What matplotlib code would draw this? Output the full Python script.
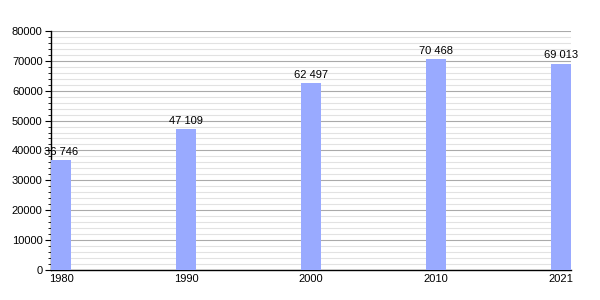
import matplotlib
matplotlib.use('Agg')
import matplotlib.pyplot as plt
import numpy as np
from matplotlib.ticker import MultipleLocator

years = ['1980', '1990', '2000', '2010', '2021']
population = [36746, 47109, 62497, 70468, 69013]

plt.rcParams['font.family'] = ['Liberation Sans', 'DejaVu Sans']

fig = plt.figure(figsize=(6, 3), dpi=100)
ax = fig.add_axes([0.085, 0.1, 0.867, 0.797])

w = 0.16
x = np.arange(len(years))
ax.bar(x, population, width=w, color='#99aaff', zorder=3)

for xi, v in zip(x, population):
    ax.text(xi, v + 1200, f'{v:,}'.replace(',', ' '), ha='center', va='bottom',
            fontsize=8, zorder=4)

ax.set_xlim(-w / 2, len(years) - 1 + w / 2)
ax.set_ylim(0, 80000)
ax.set_xticks(x)
ax.set_xticklabels(years)
ax.yaxis.set_major_locator(MultipleLocator(10000))
ax.yaxis.set_minor_locator(MultipleLocator(2000))

ax.grid(axis='y', which='major', color='#aaaaaa', linewidth=0.8, zorder=0)
ax.grid(axis='y', which='minor', color='#e2e2e2', linewidth=0.8, zorder=0)

ax.spines['top'].set_visible(False)
ax.spines['right'].set_visible(False)
ax.spines['left'].set_linewidth(1)
ax.spines['bottom'].set_linewidth(1)

ax.tick_params(axis='y', which='major', length=4, labelsize=8, pad=2)
ax.tick_params(axis='y', which='minor', length=2)
ax.tick_params(axis='x', length=0, labelsize=8, pad=3)

fig.savefig('out.png', dpi=100)
